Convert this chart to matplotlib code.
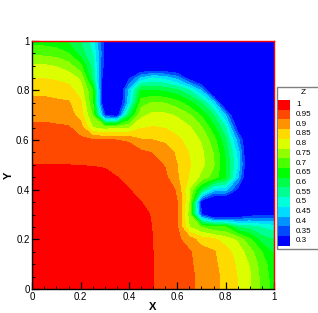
import numpy as np
import matplotlib
matplotlib.use("Agg")
import matplotlib.pyplot as plt
from matplotlib.patches import Rectangle
from matplotlib.ticker import MultipleLocator, FuncFormatter

plt.rcParams['font.family'] = ['Liberation Sans', 'DejaVu Sans']

# grid of the field, 0.05 apart
x = np.linspace(0, 1, 21)
y = np.linspace(0, 1, 21)

# Z, one row per y (y = 0 at the first row)
z_rows = [
    [1, 1, 1, 1, 1, 1, 1, 1, 1, 1, 0.975, 0.961, 0.947, 0.933, 0.915, 0.89, 0.861, 0.825, 0.78, 0.712, 0.655],
    [1, 1, 1, 1, 1, 1, 1, 1, 1, 1, 0.975, 0.96, 0.947, 0.933, 0.915, 0.89, 0.86, 0.823, 0.78, 0.708, 0.65],
    [1, 1, 1, 1, 1, 1, 1, 1, 1, 1, 0.975, 0.96, 0.945, 0.93, 0.912, 0.885, 0.853, 0.817, 0.77, 0.70, 0.64],
    [1, 1, 1, 1, 1, 1, 1, 1, 1, 1, 0.975, 0.958, 0.94, 0.93, 0.90, 0.88, 0.845, 0.805, 0.745, 0.675, 0.615],
    [1, 1, 1, 1, 1, 1, 1, 1, 1, 1, 0.973, 0.955, 0.935, 0.90, 0.85, 0.835, 0.80, 0.765, 0.685, 0.60, 0.575],
    [1, 1, 1, 1, 1, 1, 1, 1, 1, 1, 0.972, 0.953, 0.93, 0.775, 0.72, 0.68, 0.675, 0.57, 0.55, 0.52, 0.50],
    [1, 1, 1, 1, 1, 1, 1, 1, 1, 1, 0.965, 0.95, 0.93, 0.75, 0.33, 0.2, 0.2, 0.25, 0.29, 0.31, 0.31],
    [1, 1, 1, 1, 1, 1, 1, 1, 1, 0.976, 0.958, 0.948, 0.925, 0.77, 0.28, 0.2, 0.2, 0.2, 0.2, 0.2, 0.2],
    [1, 1, 1, 1, 1, 1, 1, 1, 0.976, 0.962, 0.952, 0.945, 0.92, 0.77, 0.6, 0.45, 0.44, 0.31, 0.2, 0.2, 0.2],
    [1, 1, 1, 1, 1, 1, 1, 0.976, 0.962, 0.955, 0.945, 0.935, 0.88, 0.82, 0.76, 0.70, 0.63, 0.43, 0.2, 0.2, 0.2],
    [0.975, 0.975, 0.975, 0.975, 0.973, 0.972, 0.965, 0.958, 0.952, 0.945, 0.94, 0.922, 0.875, 0.829, 0.79, 0.731, 0.625, 0.475, 0.2, 0.2, 0.2],
    [0.961, 0.96, 0.96, 0.958, 0.955, 0.953, 0.95, 0.948, 0.945, 0.935, 0.922, 0.903, 0.864, 0.822, 0.786, 0.723, 0.615, 0.455, 0.2, 0.2, 0.2],
    [0.947, 0.947, 0.945, 0.94, 0.935, 0.93, 0.93, 0.925, 0.92, 0.88, 0.875, 0.864, 0.837, 0.805, 0.769, 0.696, 0.585, 0.40, 0.2, 0.2, 0.2],
    [0.933, 0.933, 0.93, 0.93, 0.90, 0.775, 0.75, 0.77, 0.77, 0.82, 0.829, 0.822, 0.805, 0.781, 0.731, 0.645, 0.525, 0.29, 0.2, 0.2, 0.2],
    [0.915, 0.915, 0.912, 0.90, 0.85, 0.72, 0.33, 0.28, 0.6, 0.76, 0.79, 0.786, 0.769, 0.731, 0.667, 0.575, 0.42, 0.2, 0.2, 0.2, 0.2],
    [0.89, 0.89, 0.885, 0.88, 0.835, 0.68, 0.2, 0.2, 0.45, 0.70, 0.731, 0.723, 0.696, 0.645, 0.575, 0.455, 0.2, 0.2, 0.2, 0.2, 0.2],
    [0.861, 0.86, 0.853, 0.845, 0.80, 0.675, 0.2, 0.2, 0.44, 0.63, 0.625, 0.615, 0.585, 0.525, 0.42, 0.2, 0.2, 0.2, 0.2, 0.2, 0.2],
    [0.825, 0.823, 0.817, 0.805, 0.765, 0.57, 0.25, 0.2, 0.31, 0.43, 0.475, 0.455, 0.40, 0.29, 0.2, 0.2, 0.2, 0.2, 0.2, 0.2, 0.2],
    [0.78, 0.78, 0.77, 0.745, 0.685, 0.55, 0.29, 0.2, 0.2, 0.2, 0.2, 0.2, 0.2, 0.2, 0.2, 0.2, 0.2, 0.2, 0.2, 0.2, 0.2],
    [0.712, 0.708, 0.70, 0.675, 0.60, 0.52, 0.31, 0.2, 0.2, 0.2, 0.2, 0.2, 0.2, 0.2, 0.2, 0.2, 0.2, 0.2, 0.2, 0.2, 0.2],
    [0.655, 0.65, 0.64, 0.615, 0.575, 0.50, 0.31, 0.2, 0.2, 0.2, 0.2, 0.2, 0.2, 0.2, 0.2, 0.2, 0.2, 0.2, 0.2, 0.2, 0.2],
]

# legend levels (top to bottom) and their colours
legend_values = [1, 0.95, 0.9, 0.85, 0.8, 0.75, 0.7, 0.65, 0.6, 0.55, 0.5, 0.45, 0.4, 0.35, 0.3]
legend_colors = ['#ff0000', '#ff4900', '#ff9200', '#ffda00', '#dbff00', '#92ff00', '#49ff00',
                 '#00ff00', '#00ff49', '#00ff92', '#00ffda', '#00dbff', '#0092ff', '#0049ff', '#0000ff']

Z = np.array(z_rows)
vals = np.array(legend_values[::-1])
bounds = np.concatenate([[-1.0], (vals[:-1] + vals[1:]) / 2, [2.0]])

fig = plt.figure(figsize=(3.18, 3.13), dpi=100)
W, H = 318, 313
ax = fig.add_axes([32.3 / W, 1 - 289 / H, 241.7 / W, 248.3 / H])

ax.contourf(x, y, Z, levels=bounds, colors=legend_colors[::-1])

ax.set_xlim(0, 1)
ax.set_ylim(0, 1)
ax.xaxis.set_major_locator(MultipleLocator(0.2))
ax.yaxis.set_major_locator(MultipleLocator(0.2))
ax.xaxis.set_minor_locator(MultipleLocator(0.05))
ax.yaxis.set_minor_locator(MultipleLocator(0.05))
fmt = FuncFormatter(lambda v, p: f'{v:g}')
ax.xaxis.set_major_formatter(fmt)
ax.yaxis.set_major_formatter(fmt)
ax.tick_params(which='both', direction='in', top=False, right=False)
ax.tick_params(which='major', length=5, width=0.9, labelsize=7, pad=2)
ax.tick_params(which='minor', length=2.5, width=0.7)
for side in ['left', 'bottom']:
    ax.spines[side].set_color('black')
    ax.spines[side].set_linewidth(1.0)
for side in ['top', 'right']:
    ax.spines[side].set_color('red')
    ax.spines[side].set_linewidth(1.0)

fig.text(153 / W, 1 - 306.5 / H, 'X', ha='center', va='center', fontsize=8, fontweight='bold')
fig.text(8.5 / W, 1 - 175 / H, 'Y', ha='center', va='center', fontsize=8, fontweight='bold', rotation=90)

# legend drawn in pixel coordinates
lg = fig.add_axes([0, 0, 1, 1], facecolor='none')
lg.set_xlim(0, W)
lg.set_ylim(H, 0)
lg.axis('off')
lg.add_patch(Rectangle((277, 87), 60, 162, facecolor='white', edgecolor='#808080', linewidth=1.0))
lg.text(303, 92.5, 'Z', ha='center', va='center', fontsize=6)
sw_top, sw_h = 100.0, 145.7 / len(legend_values)
for k, (v, c) in enumerate(zip(legend_values, legend_colors)):
    y0 = sw_top + k * sw_h
    lg.add_patch(Rectangle((277.7, y0), 12.3, sw_h, facecolor=c, edgecolor='none'))
    lg.text(296, y0 + sw_h / 2, f'{v:g}', ha='left', va='center', fontsize=5.8)

fig.savefig('out.png', dpi=100)
